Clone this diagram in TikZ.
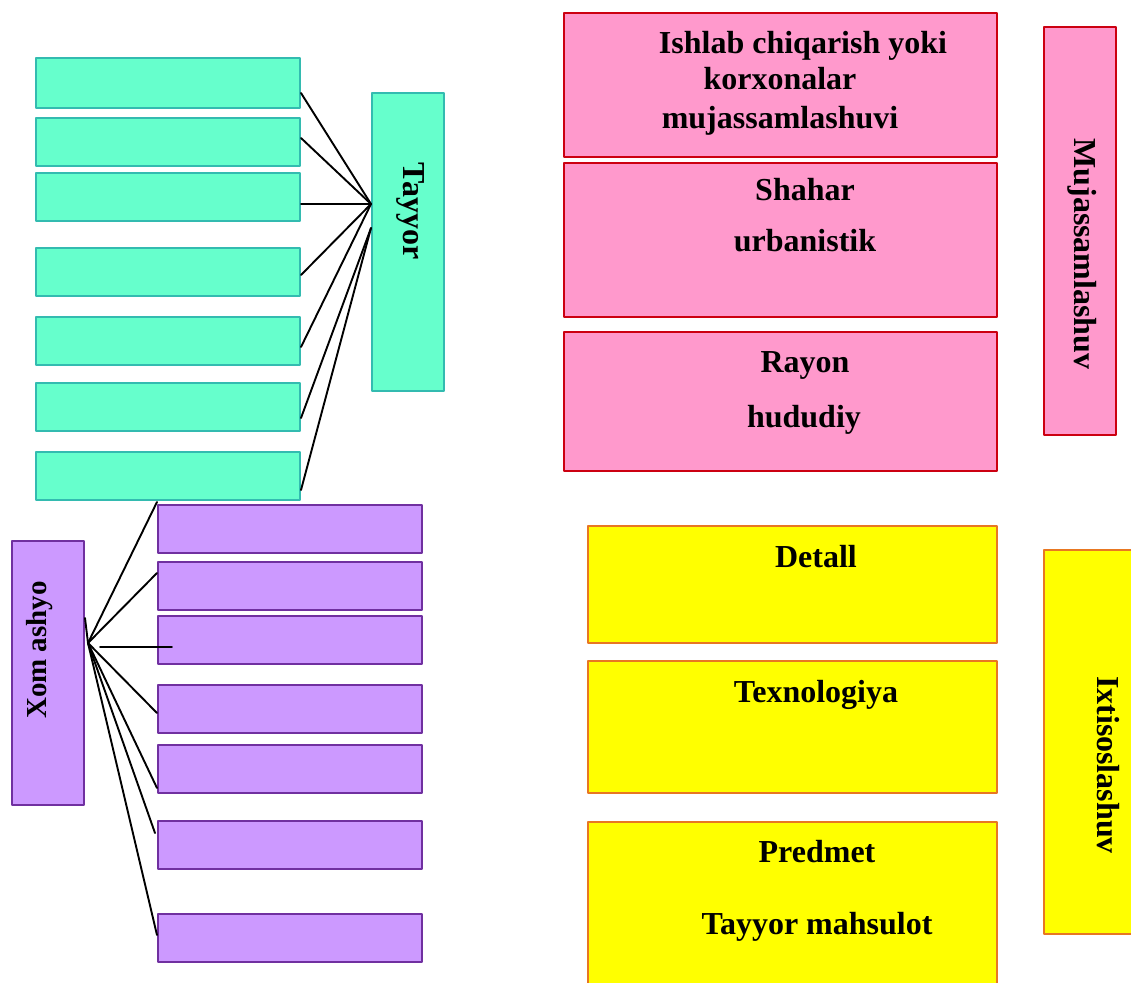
\documentclass[tikz,border=0pt]{standalone}
\usepackage{fontspec}
\setmainfont{Liberation Serif}
\usepackage{tikz}
\usetikzlibrary{calc}
\usetikzlibrary{positioning}
\definecolor{mint}{HTML}{66FFCC}
\definecolor{mintline}{HTML}{33BBB0}
\definecolor{lilac}{HTML}{CC99FF}
\definecolor{lilacline}{HTML}{7030A0}
\definecolor{rosa}{HTML}{FF99CC}
\definecolor{rosaline}{HTML}{CC0011}
\definecolor{sunny}{HTML}{FFFF00}
\definecolor{sunnyline}{HTML}{E87722}
\begin{document}
\begin{tikzpicture}[line cap=round,line join=round,x=0.5pt,y=-0.5pt,
  gbox/.style={draw=mintline,fill=mint,line width=1pt,inner sep=0pt,minimum width=132pt,minimum height=24pt},
  pbox/.style={draw=lilacline,fill=lilac,line width=1pt,inner sep=0pt,minimum width=132pt,minimum height=24pt},
  kbox/.style={draw=rosaline,fill=rosa,line width=1.1pt,inner sep=0pt,minimum width=216.5pt},
  ybox/.style={draw=sunnyline,fill=sunny,line width=1pt,inner sep=0pt,minimum width=204.5pt},
  lbl/.style={font=\fontsize{16}{19}\selectfont\bfseries,inner sep=0pt,anchor=base},
  vlbl/.style={font=\fontsize{16}{19}\selectfont\bfseries,inner sep=0pt},
  wire/.style={line width=0.95pt}]
\clip (0,0) rectangle (1131,982);
\useasboundingbox (0,0) rectangle (1131,982);
% tayyor
\node[gbox,minimum height=25pt] (g1) at (168,83) {};
\node[gbox] (g2) at (168,142) {};
\node[gbox] (g3) at (168,197) {};
\node[gbox] (g4) at (168,272) {};
\node[gbox] (g5) at (168,341) {};
\node[gbox] (g6) at (168,407) {};
\node[gbox] (g7) at (168,476) {};
\node[gbox,minimum width=36pt,minimum height=149pt] (tayor) at (408,242) {};
\node[vlbl,rotate=-90] (tayorlbl) at (411,211) {Tayyor};
\coordinate (tj) at ($(tayor.west)+(0,-38)$);
\coordinate (tk) at ($(tayor.west)+(0,-14)$);
\draw[wire] ($(g1.east)+(0,10)$) -- (tj);
\draw[wire] ($(g2.east)+(0,-4)$) -- (tj);
\draw[wire] ($(g3.east)+(0,7)$) -- (tj);
\draw[wire] ($(g4.east)+(0,3)$) -- (tj);
\draw[wire] ($(g5.east)+(0,6)$) -- (tj);
\draw[wire] ($(g6.east)+(0,11)$) -- (tk);
\draw[wire] ($(g7.east)+(0,14)$) -- (tk);
% xom ashyo
\node[pbox] (p1) at (290,529) {};
\node[pbox] (p2) at (290,586) {};
\node[pbox] (p3) at (290,640) {};
\node[pbox] (p4) at (290,708.5) {};
\node[pbox] (p5) at (290,769) {};
\node[pbox] (p6) at (290,845) {};
\node[pbox] (p7) at (290,938) {};
\node[pbox,minimum width=36pt,minimum height=132pt] (xom) at (48,673) {};
\node[vlbl,font=\fontsize{14.5}{17}\selectfont\bfseries,rotate=90] (xomlbl) at (40,650) {Xom ashyo};
\coordinate (hub) at ($(xom.east)+(3,-30)$);
\draw[wire] (hub) -- ($(p1.north west)+(0,-2)$);
\draw[wire] (hub) -- ($(p2.west)+(0,-13)$);
\draw[wire] ($(p3.west)+(-57,7)$) -- ($(p3.west)+(15,7)$);
\draw[wire] (hub) -- ($(p4.west)+(0,4.5)$);
\draw[wire] (hub) -- ($(p5.west)+(0,19)$);
\draw[wire] (hub) -- ($(p6.west)+(-2,-12)$);
\draw[wire] (hub) -- ($(p7.west)+(0,-3)$);
\draw[wire] (hub) -- ($(xom.east)+(0,-55)$);
% mujassamlashuv
\node[kbox,minimum height=72pt] (k1) at (780.5,85) {};
\node[kbox,minimum height=77pt] (k2) at (780.5,240) {};
\node[kbox,minimum height=69.5pt] (k3) at (780.5,401.5) {};
\node[kbox,minimum width=36pt,minimum height=204pt] (muj) at (1080,231) {};
\node[lbl] (k1a) at (803,53) {Ishlab chiqarish yoki};
\node[lbl] (k1b) at (780,89) {korxonalar};
\node[lbl] (k1c) at (780,128) {mujassamlashuvi};
\node[lbl] (k2a) at (805,200) {Shahar};
\node[lbl] (k2b) at (805,251) {urbanistik};
\node[lbl] (k3a) at (805,372) {Rayon};
\node[lbl] (k3b) at (804,427) {hududiy};
\node[vlbl,rotate=-90] (mujlbl) at (1082,254) {Mujassamlashuv};
% ixtisoslashuv
\node[ybox,minimum height=58.5pt] (y1) at (792.5,584.5) {};
\node[ybox,minimum height=66pt] (y2) at (792.5,727) {};
\node[ybox,minimum height=89pt] (y3) at (792.5,911) {};
\node[ybox,minimum width=64pt,minimum height=192pt] (ixt) at (1108,742) {};
\node[lbl] (y1a) at (816,567) {Detall};
\node[lbl] (y2a) at (816,702) {Texnologiya};
\node[lbl] (y3a) at (817,862) {Predmet};
\node[lbl] (y3b) at (817,934) {Tayyor mahsulot};
\node[vlbl,rotate=-90] (ixtlbl) at (1108,765) {Ixtisoslashuv};
\end{tikzpicture}
\end{document}
